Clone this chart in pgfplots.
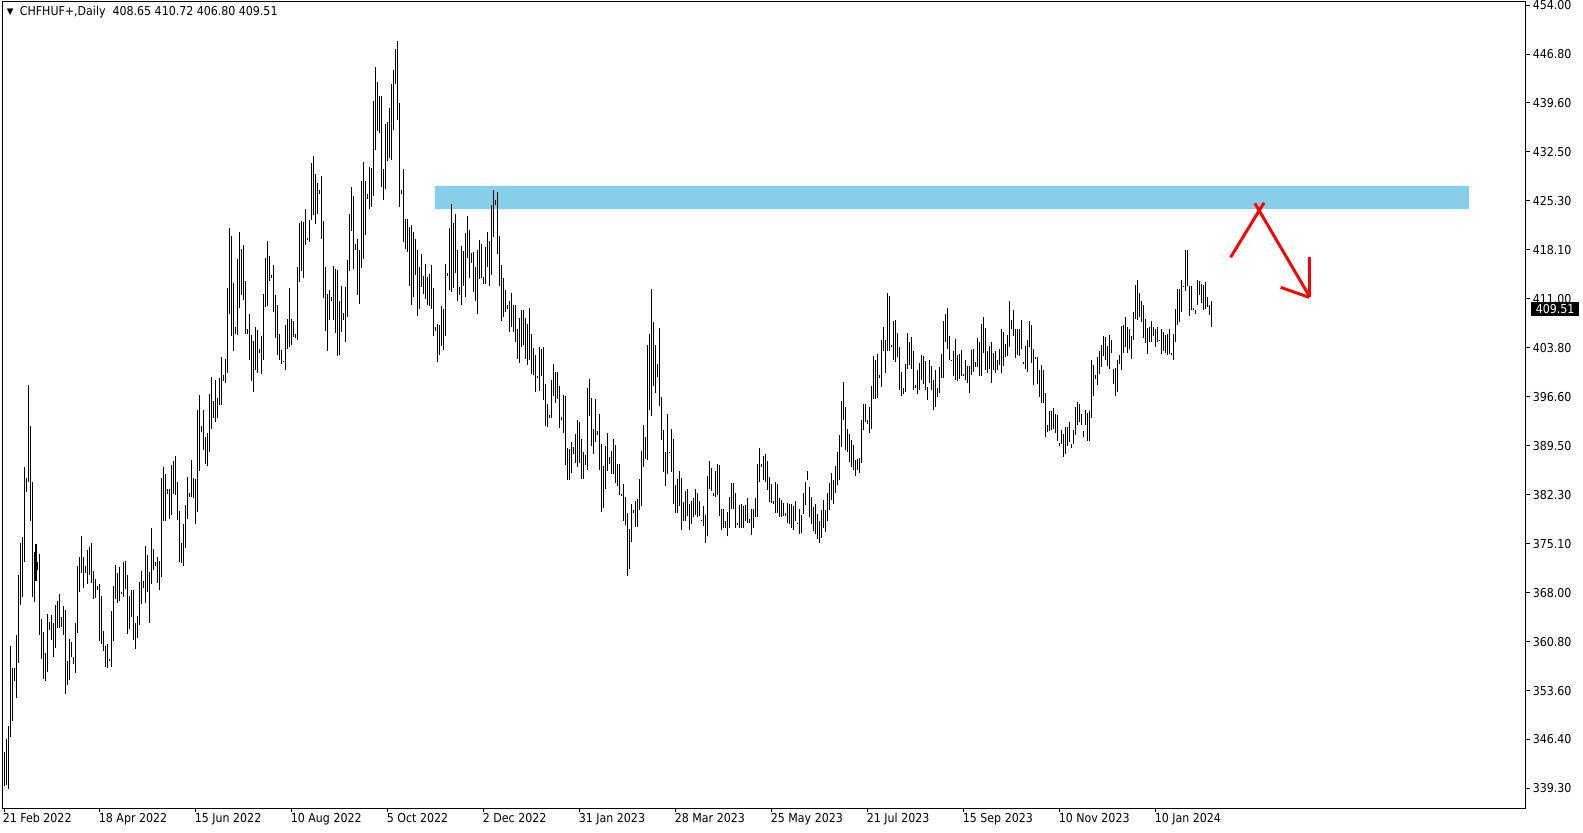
\documentclass[border=0pt]{standalone}
\usepackage{pgfplots}
\usepackage{pgfplotstable}
\pgfplotsset{compat=1.18}
\usepackage{fontspec}
\setmainfont{DejaVu Sans Condensed}
\newfontfamily\symfont{DejaVu Sans}
\definecolor{zone}{RGB}{135,206,235}

\pgfplotstableread{
x lo hi
0 339.6 344.7
1 339.8 346.5
2 339.2 348.5
3 346.9 360.2
4 349.2 356.9
5 355.1 356.9
6 352.5 361.8
7 357.7 370.6
8 366.2 375.3
9 367.4 376.1
10 372.5 386.3
11 382.7 384.8
12 384.1 398.4
13 378.5 392.4
14 367.4 384.2
15 366.6 373.9
16 369.7 375.1
17 371.3 372.4
18 361.8 373.6
19 358.2 364.1
20 355.3 362.2
21 355.1 359.2
22 356.3 364.9
23 362.5 363.7
24 361.0 364.7
25 358.6 363.6
26 359.8 366.2
27 362.8 366.8
28 362.8 367.8
29 363.0 364.4
30 361.8 366.0
31 353.2 365.4
32 354.4 357.9
33 355.2 361.2
34 358.6 360.8
35 357.5 358.6
36 356.2 363.5
37 362.1 371.8
38 368.1 373.2
39 370.8 376.3
40 368.6 373.2
41 370.9 371.8
42 369.3 374.2
43 370.6 374.7
44 369.4 375.3
45 367.0 371.2
46 367.2 370.0
47 368.4 368.9
48 360.9 369.2
49 360.4 367.5
50 359.4 362.4
51 357.1 360.2
52 357.0 360.4
53 357.9 358.2
54 357.1 365.3
55 360.9 368.9
56 367.0 372.0
57 366.5 370.9
58 366.8 371.7
59 367.8 368.0
60 367.4 372.5
61 368.5 372.6
62 361.9 370.6
63 362.6 367.5
64 364.4 368.4
65 361.1 368.4
66 359.7 363.6
67 361.3 364.6
68 363.2 369.6
69 366.3 371.1
70 368.6 369.7
71 366.4 374.8
72 368.0 373.5
73 363.5 371.0
74 369.2 377.5
75 371.3 374.4
76 371.9 372.4
77 369.4 373.2
78 368.3 372.6
79 370.3 384.8
80 378.5 386.3
81 378.5 385.4
82 382.4 383.1
83 378.8 383.2
84 379.3 386.7
85 382.4 387.2
86 382.2 388.0
87 378.6 384.1
88 372.4 379.9
89 372.3 375.3
90 371.8 378.0
91 374.5 380.8
92 378.7 384.9
93 382.0 382.6
94 382.0 387.4
95 381.8 384.7
96 378.0 384.6
97 379.8 394.7
98 385.8 396.9
99 391.5 392.3
100 388.9 394.7
101 386.8 390.7
102 386.5 391.4
103 388.6 397.1
104 392.0 399.6
105 393.5 396.1
106 393.0 399.1
107 393.5 396.4
108 395.5 399.4
109 395.5 402.5
110 399.0 399.8
111 398.7 402.2
112 400.2 412.6
113 408.8 421.4
114 405.6 420.2
115 403.3 413.3
116 405.8 406.8
117 405.7 416.8
118 409.7 420.8
119 411.6 418.3
120 410.8 418.9
121 405.9 413.6
122 405.8 406.6
123 402.0 408.8
124 399.0 405.7
125 397.4 404.8
126 400.6 406.8
127 400.2 406.4
128 403.1 403.6
129 400.0 405.5
130 402.0 411.7
131 409.8 417.0
132 410.0 419.5
133 413.6 417.3
134 414.0 414.5
135 409.1 415.9
136 405.3 411.5
137 402.8 410.1
138 402.1 405.9
139 401.4 403.5
140 401.7 401.9
141 400.5 407.2
142 403.6 408.0
143 404.0 412.6
144 404.3 408.0
145 405.4 407.8
146 405.2 405.8
147 404.9 415.6
148 413.4 422.1
149 415.0 422.4
150 414.0 422.3
151 418.9 424.1
152 419.6 419.9
153 419.3 422.5
154 422.5 430.9
155 423.3 431.9
156 422.0 429.3
157 423.4 428.0
158 426.4 426.9
159 419.8 428.9
160 411.1 422.4
161 406.3 415.7
162 403.4 411.7
163 407.9 412.3
164 410.7 411.2
165 407.9 415.8
166 406.0 415.4
167 402.6 415.2
168 402.8 410.7
169 406.2 412.8
170 407.9 408.9
171 404.7 412.7
172 408.3 416.7
173 415.0 423.4
174 420.9 427.3
175 415.4 426.1
176 418.1 419.0
177 411.6 419.8
178 410.2 418.1
179 415.5 428.2
180 416.8 431.0
181 420.3 428.3
182 425.6 426.3
183 424.1 430.3
184 424.5 430.2
185 426.1 439.9
186 432.8 445.0
187 435.6 442.8
188 435.2 440.7
189 427.4 440.7
190 425.4 430.0
191 427.1 436.6
192 431.1 436.9
193 431.6 439.0
194 431.3 442.5
195 435.7 444.5
196 442.4 447.6
197 437.2 448.7
198 424.5 439.6
199 426.3 426.9
200 419.3 430.0
201 418.3 422.7
202 417.9 422.7
203 412.8 421.5
204 410.1 421.8
205 411.2 420.8
206 414.5 419.7
207 408.5 418.1
208 409.5 415.6
209 412.7 417.6
210 411.7 414.3
211 411.0 416.1
212 410.1 414.2
213 410.0 414.6
214 409.5 415.9
215 405.6 412.6
216 406.3 406.8
217 401.8 407.3
218 402.7 407.2
219 404.1 409.9
220 403.5 409.5
221 405.5 416.1
222 414.4 414.8
223 412.3 421.3
224 412.0 424.9
225 412.6 422.1
226 414.8 423.4
227 410.6 418.1
228 411.5 412.7
229 410.1 418.7
230 412.9 418.0
231 411.3 420.6
232 416.9 423.1
233 414.1 421.1
234 416.3 417.7
235 412.0 417.9
236 410.7 415.7
237 408.8 418.1
238 413.9 419.6
239 414.0 419.0
240 413.1 414.2
241 413.1 418.6
242 415.6 420.8
243 412.9 419.5
244 414.5 424.7
245 420.1 426.9
246 424.7 425.5
247 417.5 426.7
248 412.8 420.2
249 407.8 416.0
250 408.4 414.0
251 409.1 412.3
252 409.5 410.1
253 406.2 410.6
254 406.8 411.8
255 406.2 410.1
256 404.7 410.1
257 402.2 406.6
258 401.6 408.2
259 404.0 409.4
260 404.2 409.4
261 402.2 408.2
262 401.3 407.3
263 402.0 409.6
264 400.0 405.8
265 399.8 403.8
266 397.3 402.8
267 399.4 399.7
268 397.5 403.9
269 399.7 403.6
270 396.2 403.9
271 392.4 398.5
272 392.2 395.6
273 393.5 394.0
274 393.5 399.1
275 396.7 401.4
276 395.7 400.3
277 396.3 400.3
278 392.1 398.2
279 393.2 393.7
280 391.4 396.9
281 386.6 396.8
282 384.5 389.1
283 384.5 389.0
284 385.5 390.0
285 388.3 389.3
286 387.0 391.2
287 386.4 393.2
288 386.9 393.0
289 384.6 390.5
290 384.6 388.6
291 386.7 388.1
292 386.0 397.9
293 393.9 399.2
294 389.4 396.5
295 388.2 391.9
296 390.1 396.3
297 391.0 391.6
298 386.0 394.1
299 379.8 389.7
300 380.3 386.5
301 383.2 389.4
302 385.8 391.3
303 386.8 387.9
304 385.4 388.7
305 385.3 390.5
306 384.0 389.6
307 383.6 386.8
308 382.2 386.8
309 382.1 382.4
310 378.5 383.9
311 377.9 382.0
312 370.4 379.7
313 371.5 377.3
314 375.4 380.9
315 379.7 380.0
316 377.6 381.4
317 377.6 381.7
318 380.1 384.6
319 380.6 388.7
320 386.4 392.5
321 387.6 390.8
322 387.4 404.2
323 394.7 405.8
324 393.9 412.4
325 398.2 407.6
326 397.2 404.2
327 399.6 401.4
328 395.3 406.7
329 390.3 396.6
330 385.7 391.8
331 383.6 388.6
332 385.3 394.2
333 388.5 388.6
334 385.6 391.9
335 381.0 390.5
336 379.7 383.7
337 379.7 384.6
338 380.7 385.8
339 377.2 384.8
340 378.5 381.3
341 378.5 382.8
342 379.2 383.1
343 377.2 380.9
344 378.0 381.4
345 379.0 381.9
346 379.3 383.1
347 379.0 382.5
348 379.2 381.4
349 378.4 378.6
350 377.7 380.6
351 375.2 379.3
352 376.2 385.0
353 383.1 387.2
354 382.9 386.2
355 382.1 382.5
356 382.0 385.8
357 382.2 386.8
358 379.2 386.6
359 377.1 380.2
360 377.5 380.2
361 377.5 378.5
362 376.2 379.8
363 377.4 382.0
364 380.2 384.0
365 380.2 384.0
366 377.5 382.5
367 377.9 378.1
368 377.4 380.8
369 377.4 380.9
370 377.5 380.6
371 378.5 380.8
372 378.2 381.9
373 378.2 378.7
374 376.4 380.2
375 377.4 380.2
376 379.1 381.9
377 379.1 386.8
378 384.1 389.1
379 386.4 386.8
380 384.4 388.0
381 384.1 388.3
382 383.0 387.3
383 381.3 384.9
384 381.1 383.9
385 381.0 381.4
386 379.7 384.1
387 379.7 383.9
388 379.1 381.8
389 379.1 381.6
390 379.2 381.1
391 379.2 379.6
392 378.2 381.1
393 378.0 381.0
394 377.4 381.0
395 377.2 380.7
396 378.5 381.4
397 378.0 378.2
398 376.6 380.2
399 376.7 379.3
400 379.5 382.6
401 380.8 384.1
402 384.4 385.8
403 379.0 383.5
404 378.0 382.0
405 377.0 380.5
406 376.5 381.0
407 375.8 379.5
408 375.2 378.5
409 376.0 380.0
410 377.5 381.5
411 376.8 380.0
412 378.5 382.5
413 380.0 384.0
414 381.5 385.5
415 381.0 384.5
416 382.5 386.5
417 383.8 388.5
418 384.5 391.0
419 389.3 396.1
420 393.2 398.8
421 388.8 395.2
422 388.5 391.9
423 387.1 391.2
424 386.4 390.3
425 385.9 389.6
426 385.0 387.4
427 386.0 387.5
428 385.5 387.7
429 387.0 393.2
430 391.8 395.6
431 392.9 395.6
432 392.7 393.2
433 391.3 395.2
434 391.9 398.2
435 396.3 402.6
436 396.3 402.1
437 396.4 402.9
438 399.4 399.8
439 398.1 405.0
440 403.4 406.9
441 400.2 405.0
442 403.4 411.9
443 403.4 411.4
444 404.0 404.2
445 402.1 407.8
446 401.8 407.9
447 402.4 406.0
448 397.7 404.0
449 396.8 400.3
450 397.1 397.9
451 397.4 401.5
452 400.7 406.0
453 401.3 404.7
454 400.7 405.4
455 397.7 403.3
456 398.0 398.4
457 397.1 400.6
458 397.7 401.6
459 399.1 402.8
460 398.5 402.6
461 397.6 401.9
462 396.2 398.1
463 398.6 402.0
464 397.6 401.2
465 394.7 399.1
466 395.1 400.5
467 396.6 397.9
468 397.2 401.0
469 399.4 402.9
470 399.4 407.8
471 404.7 408.7
472 403.6 409.6
473 402.1 405.5
474 401.9 402.0
475 399.7 403.4
476 399.1 405.1
477 399.0 402.8
478 399.3 402.9
479 399.7 403.5
480 399.7 400.0
481 399.1 402.0
482 398.7 401.1
483 397.2 401.2
484 399.8 403.5
485 400.3 403.6
486 401.0 401.8
487 401.0 405.2
488 399.7 404.7
489 399.7 407.3
490 403.0 408.3
491 400.6 406.7
492 400.2 403.4
493 400.7 404.1
494 398.7 404.6
495 400.6 403.0
496 400.1 403.3
497 400.6 402.0
498 401.3 403.6
499 400.1 406.5
500 401.2 406.2
501 402.4 404.4
502 402.6 405.7
503 403.9 410.6
504 406.6 407.9
505 405.5 409.3
506 402.3 406.6
507 402.8 406.6
508 402.6 406.6
509 403.7 407.9
510 401.4 401.7
511 400.7 404.1
512 400.3 405.0
513 404.0 407.7
514 401.6 407.1
515 398.4 403.6
516 402.2 402.5
517 398.5 402.4
518 396.6 400.6
519 395.7 401.3
520 395.7 400.6
521 390.7 397.2
522 391.5 392.5
523 391.6 394.5
524 391.8 394.5
525 391.9 395.0
526 391.3 394.1
527 390.2 394.0
528 389.4 389.9
529 389.8 391.8
530 387.9 391.2
531 388.3 392.2
532 389.4 392.2
533 390.1 393.0
534 389.1 389.7
535 389.7 391.8
536 391.1 395.1
537 392.5 395.9
538 393.0 395.6
539 392.5 394.1
540 390.7 391.7
541 392.5 394.7
542 390.2 394.3
543 390.2 394.5
544 393.6 402.0
545 396.7 401.3
546 399.3 399.8
547 398.4 402.4
548 400.0 403.4
549 401.0 404.2
550 402.6 405.5
551 402.1 405.4
552 401.1 404.1
553 400.7 405.7
554 403.0 404.9
555 398.5 400.7
556 396.8 400.8
557 397.3 402.0
558 401.4 402.8
559 400.6 407.0
560 403.1 407.2
561 404.0 408.3
562 403.0 406.9
563 403.7 406.6
564 402.2 405.5
565 404.9 409.0
566 408.1 413.0
567 407.9 413.7
568 408.3 411.9
569 407.6 410.6
570 405.2 410.1
571 404.5 408.0
572 402.9 406.7
573 404.6 406.9
574 404.7 407.8
575 405.5 406.9
576 403.9 406.5
577 404.6 406.8
578 404.9 405.0
579 402.9 406.5
580 403.4 406.2
581 403.0 405.7
582 402.8 405.8
583 402.9 406.5
584 402.8 403.1
585 402.0 405.8
586 404.6 409.5
587 407.2 412.4
588 407.6 412.4
589 409.0 413.7
590 412.7 412.9
591 412.2 418.1
592 412.8 418.1
593 408.5 412.9
594 409.4 412.8
595 409.4 409.7
596 408.8 409.4
597 410.1 413.8
598 411.5 413.6
599 410.4 413.2
600 409.4 413.0
601 409.5 413.4
602 409.8 411.2
603 408.6 410.1
604 406.80 410.72
}\bars

\begin{document}
\begin{tikzpicture}[font=\fontsize{9.2}{11}\selectfont]
\useasboundingbox (-1.5pt,-18pt) rectangle (1185.75pt,606pt);
\begin{axis}[
  scale only axis, width=1143pt, height=604.5pt,
  at={(0pt,0pt)}, anchor=south west,
  xmin=-1, xmax=761, ymin=336.44, ymax=454.45,
  clip=false,
  axis line style={black, line width=0.75pt},
  xtick={0,48,96,144,192,240,288,336,384,432,480,528,576},
  xticklabels={21 Feb 2022,18 Apr 2022,15 Jun 2022,10 Aug 2022,5 Oct 2022,2 Dec 2022,31 Jan 2023,28 Mar 2023,25 May 2023,21 Jul 2023,15 Sep 2023,10 Nov 2023,10 Jan 2024},
  ytick={454,446.83125,439.6625,432.49375,425.325,418.15625,410.9875,403.81875,396.65,389.48125,382.3125,375.14375,367.975,360.80625,353.6375,346.46875,339.3},
  yticklabels={454.00,446.80,439.60,432.50,425.30,418.10,411.00,403.80,396.60,389.50,382.30,375.10,368.00,360.80,353.60,346.40,339.30},
  xtick pos=left, ytick pos=right, yticklabel pos=right,
  tick align=outside, major tick length=3pt,
  tick style={black, line width=0.75pt},
  xticklabel style={anchor=north west, inner sep=0pt, xshift=-1pt, yshift=-0.5pt},
  yticklabel style={anchor=west, inner sep=0pt, xshift=2pt},
  axis background/.style={fill=white},
]
\addplot[fill=zone, draw=none, forget plot] coordinates {(215.5,424.14) (732.5,424.14) (732.5,427.51) (215.5,427.51) (215.5,424.14)};
\addplot[draw=none, no markers, forget plot,
  error bars/.cd, y dir=plus, y explicit, error mark=none,
  error bar style={draw=black, solid, line width=0.75pt}]
  table[x=x, y=lo, y error expr=\thisrow{hi}-\thisrow{lo}] {\bars};
\addplot[red, line width=2.2pt, forget plot] coordinates {(613.35,417.07) (630,425.06)};
\addplot[red, line width=2.2pt, forget plot] coordinates {(625.5,424.97) (652.65,411.4)};
\addplot[red, line width=2.2pt, forget plot] coordinates {(652.65,417.07) (652.65,411.2)};
\addplot[red, line width=2.2pt, forget plot] coordinates {(638.35,412.67) (652.65,411.2)};
\node[anchor=west, inner sep=0pt, text=black] at (axis cs:1.3,452.9) {\symfont\fontsize{6.5}{7}\selectfont ▼};
\node[anchor=west, inner sep=0pt, text=black] at (axis cs:7.8,452.9) {CHFHUF+,Daily\ \ 408.65 410.72 406.80 409.51};
\node[anchor=west, fill=black, text=white, inner xsep=3.5pt, inner ysep=1.6pt] at (axis cs:763.5,409.51) {409.51};
\end{axis}
\end{tikzpicture}
\end{document}
